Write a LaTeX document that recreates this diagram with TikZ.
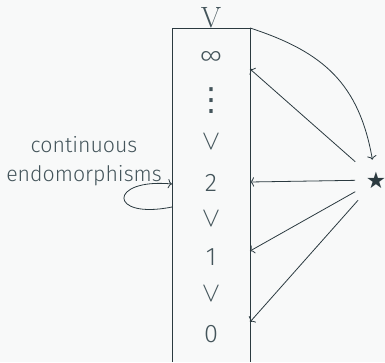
\documentclass[tikz,border=0pt]{standalone}
\usepackage{fontspec}
\setmainfont{Fira Sans}[UprightFont=* Light]
\newfontfamily\symfont{DejaVu Sans}
\newfontfamily\lmfont{Latin Modern Roman}
\usepackage{tikz}
\usetikzlibrary{arrows.meta, positioning, calc}

\definecolor{bgcol}{HTML}{F8F9F9}
\definecolor{inkcol}{HTML}{2B3A40}
\definecolor{txtcol}{HTML}{44555B}

\begin{document}
\begin{tikzpicture}[
  x=0.75pt, y=-0.75pt,
  rung/.style={text=txtcol, font=\fontsize{19}{22}\selectfont, inner sep=0pt},
  chev/.style={text=txtcol, font=\fontsize{22}{24}\selectfont, inner sep=0pt},
  lbl/.style={text=txtcol, font=\fontsize{16}{21.75}\selectfont, align=center, inner sep=0pt},
  link/.style={draw=inkcol, line width=0.6pt, -{To[length=3pt,width=7pt]}}
]
  \fill[bgcol] (0,0) rectangle (385,362);

  % the column
  \draw[inkcol, line width=0.6pt] (172,362) -- (172,28) -- (250,28) -- (250,362);
  \coordinate (tl) at (250,28);

  \node[text=txtcol, font=\fontsize{22}{24}\selectfont\lmfont, inner sep=0pt] (top) at (211,18) {V};
  \node[rung] (inf) at (211,58) {∞};
  \node[rung, font=\fontsize{24}{26}\selectfont\symfont] (dots) at (211,101) {⋮};
  \node[chev] (lt3) at (211,142) {$\vee$};
  \node[rung] (two) at (211,183) {2};
  \node[chev] (lt2) at (211,219) {$\vee$};
  \node[rung] (one) at (211,257) {1};
  \node[chev] (lt1) at (211,294) {$\vee$};
  \node[rung] (zero) at (211,334) {0};

  % star and its arrows
  \node[overlay, text=inkcol, font=\fontsize{17}{19}\selectfont\symfont, minimum width=30.75pt, minimum height=30pt, inner sep=0pt] (star) at (376,180) {★};
  \foreach \y/\nm in {69/pinf, 182/ptwo, 251/pone, 322/pzero} {
    \coordinate (\nm) at (250,\y);
    \draw[link] (star) -- (\nm);
  }
  \draw[link] (tl) to[out=-18, in=100, looseness=1.1] (star);

  % endomorphism loop
  \node[lbl] (endo) at (84,161) {continuous\\endomorphisms};
  \coordinate (lpa) at (172,207);
  \coordinate (lpb) at (172,184);
  \draw[link] (lpa) .. controls (108,220) and (108,178) .. (lpb);
\end{tikzpicture}
\end{document}
